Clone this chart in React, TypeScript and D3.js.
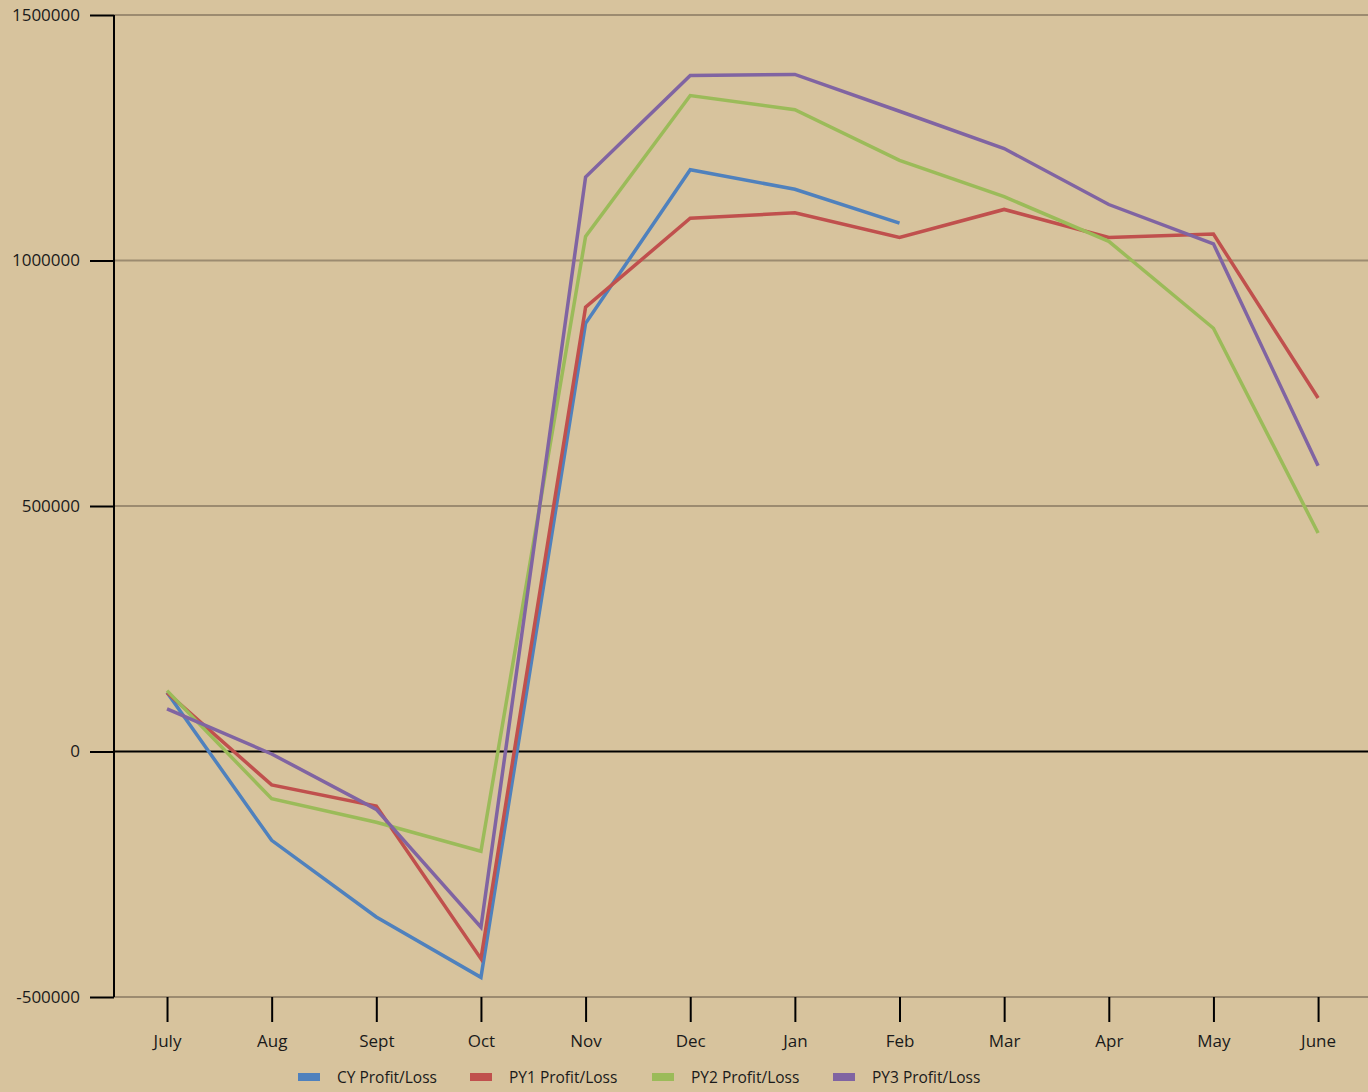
import React, { useRef, useEffect } from "react";
import * as d3 from "d3";

const width = 1368;
const height = 1092;
const margin = { top: 15, right: 0, bottom: 95, left: 114 };

const months = ["July", "Aug", "Sept", "Oct", "Nov", "Dec", "Jan", "Feb", "Mar", "Apr", "May", "June"];
const yTicks = [-500000, 0, 500000, 1000000, 1500000];

const cyValues = [120000, -181000, -337000, -460000, 872000, 1185000, 1145000, 1076000, null, null, null, null];
const py1Values = [120000, -68000, -111000, -422000, 905000, 1086000, 1097000, 1047000, 1104000, 1047000, 1054000, 720000];
const py2Values = [124000, -96000, -144000, -203000, 1049000, 1336000, 1307000, 1204000, 1130000, 1039000, 862000, 445000];
const py3Values = [87000, -5000, -118000, -358000, 1170000, 1377000, 1379000, 1304000, 1228000, 1114000, 1034000, 582000];

const seriesNames = ["CY Profit/Loss", "PY1 Profit/Loss", "PY2 Profit/Loss", "PY3 Profit/Loss"];
const seriesColors = ["#4F81BD", "#C0504D", "#9BBB59", "#8064A2"];

const bg = "#D7C39D";
const gridColor = "#9C8B70";
const font = "'Open Sans', sans-serif";

const App = () => {
  const svgRef = useRef<SVGSVGElement>(null);

  useEffect(() => {
    const svg = d3.select(svgRef.current);
    svg.selectAll("*").remove();

    const allSeries = [cyValues, py1Values, py2Values, py3Values];

    const xScale = d3
      .scalePoint<string>()
      .domain(months)
      .range([margin.left + 0.7, width + 2.4])
      .padding(0.5);

    const yScale = d3
      .scaleLinear()
      .domain([-500000, 1500000])
      .range([height - margin.bottom, margin.top]);

    svg.append("rect").attr("width", width).attr("height", height).attr("fill", bg);

    // gridlines
    svg
      .append("g")
      .selectAll("line")
      .data(yTicks)
      .enter()
      .append("line")
      .attr("x1", margin.left)
      .attr("x2", width)
      .attr("y1", (d) => yScale(d))
      .attr("y2", (d) => yScale(d))
      .attr("stroke", (d) => (d === 0 ? "#000" : gridColor))
      .attr("stroke-width", 2);

    // y axis
    const yAxis = d3
      .axisLeft(yScale)
      .tickValues(yTicks)
      .tickSize(24)
      .tickPadding(10)
      .tickFormat((d) => String(d));
    const gy = svg
      .append("g")
      .attr("transform", `translate(${margin.left},0)`)
      .call(yAxis);
    gy.select(".domain").attr("stroke", "#000").attr("stroke-width", 2).attr("d", `M0,${margin.top}V${height - margin.bottom}`);
    gy.selectAll(".tick line").attr("stroke", "#000").attr("stroke-width", 2);
    gy.selectAll(".tick text")
      .attr("font-family", font)
      .attr("font-size", 17)
      .attr("fill", "#1a1a1a");

    // x axis
    const xAxis = d3.axisBottom(xScale).tickSize(25).tickPadding(13);
    const gx = svg
      .append("g")
      .attr("transform", `translate(0,${height - margin.bottom})`)
      .call(xAxis);
    gx.select(".domain").remove();
    gx.selectAll(".tick line").attr("stroke", "#000").attr("stroke-width", 2);
    gx.selectAll(".tick text")
      .attr("font-family", font)
      .attr("font-size", 17)
      .attr("fill", "#1a1a1a");

    // lines
    const lineFn = d3
      .line<number | null>()
      .defined((d) => d !== null)
      .x((d, i) => xScale(months[i]) as number)
      .y((d) => yScale(d as number));

    svg
      .append("g")
      .selectAll("path")
      .data(allSeries)
      .enter()
      .append("path")
      .attr("fill", "none")
      .attr("stroke", (d, i) => seriesColors[i])
      .attr("stroke-width", 3.5)
      .attr("stroke-linejoin", "miter")
      .attr("d", (d) => lineFn(d));

    // legend
    const legendX = [298, 470, 652, 833];
    const legend = svg
      .append("g")
      .selectAll("g")
      .data(seriesNames)
      .enter()
      .append("g")
      .attr("transform", (d, i) => `translate(${legendX[i]},1077)`);
    legend
      .append("rect")
      .attr("x", 0)
      .attr("y", -4)
      .attr("width", 22)
      .attr("height", 8)
      .attr("fill", (d, i) => seriesColors[i]);
    legend
      .append("text")
      .attr("x", 39)
      .attr("y", 1)
      .attr("dy", "0.35em")
      .attr("font-family", font)
      .attr("font-size", 15.5)
      .attr("fill", "#1a1a1a")
      .text((d) => d);
  }, []);

  return (
    <svg
      ref={svgRef}
      width={width}
      height={height}
      style={{ position: "absolute", left: 0, top: 0, display: "block" }}
    ></svg>
  );
};

export default App;
